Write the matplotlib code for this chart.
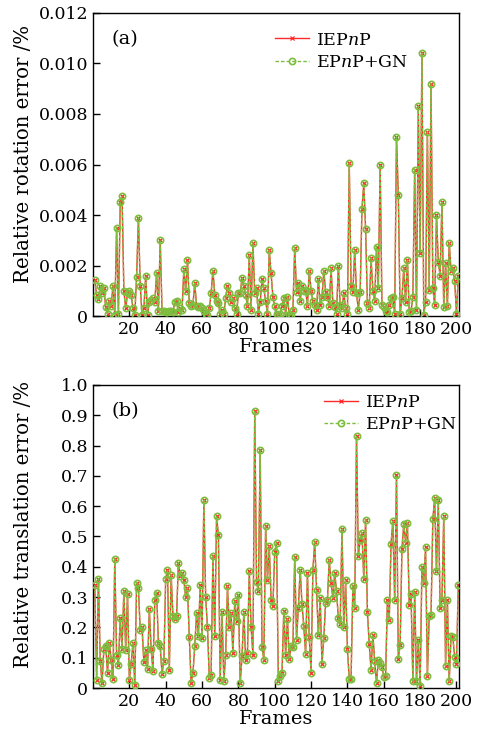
import numpy as np
import matplotlib; matplotlib.use("Agg")
import matplotlib.pyplot as plt

plt.rcParams["font.family"] = ["DejaVu Serif"]
plt.rcParams["mathtext.fontset"] = "dejavuserif"

# relative rotation error, in units of 1e-3 %
rot_err_e3 = [
    1.42, 0.83, 0.66, 1.20, 0.90, 1.12, 0.35, 0.10, 0.60, 0.40,
    1.20, 0.05, 3.50, 0.10, 4.50, 4.75, 1.00, 0.30, 0.90, 1.00,
    0.85, 0.30, 0.05, 1.55, 3.90, 1.20, 0.05, 0.30, 1.60, 0.05,
    0.55, 0.65, 0.70, 0.55, 1.70, 0.20, 3.00, 0.20, 0.20, 0.15,
    0.15, 0.20, 0.20, 0.15, 0.55, 0.60, 0.15, 0.30, 0.25, 1.85,
    1.00, 2.20, 0.50, 0.40, 0.45, 1.30, 0.40, 0.35, 0.40, 0.30,
    0.20, 0.10, 0.05, 0.30, 0.90, 1.80, 0.85, 0.60, 0.50, 0.10,
    0.25, 0.10, 0.70, 1.20, 0.90, 0.55, 0.70, 0.30, 0.10, 0.90,
    0.90, 1.50, 1.20, 0.85, 0.40, 2.40, 0.25, 2.90, 0.90, 1.10,
    0.10, 0.55, 1.45, 1.10, 0.60, 0.10, 2.60, 1.70, 0.75, 0.40,
    0.10, 0.05, 0.10, 0.40, 0.70, 0.05, 0.75, 0.05, 0.05, 0.25,
    2.70, 0.95, 1.30, 0.60, 1.20, 1.00, 1.05, 0.40, 1.80, 1.00,
    0.60, 0.45, 0.25, 1.45, 0.45, 0.75, 1.80, 0.95, 0.75, 0.40,
    1.90, 0.50, 0.35, 0.10, 2.00, 0.45, 0.30, 0.90, 0.30, 0.10,
    6.05, 1.20, 0.95, 2.60, 0.90, 0.25, 0.95, 4.25, 5.25, 3.45,
    0.50, 0.30, 2.30, 1.00, 0.60, 2.75, 1.10, 6.00, 0.45, 0.35,
    0.20, 0.15, 0.45, 0.70, 0.75, 0.10, 7.10, 4.80, 0.10, 0.70,
    1.90, 0.55, 2.20, 0.15, 0.20, 0.75, 5.80, 0.25, 8.30, 2.50,
    10.40, 0.05, 0.55, 7.30, 1.05, 9.20, 1.10, 0.45, 4.00, 2.15,
    1.60, 4.50, 0.35, 2.10, 0.40, 2.90, 1.80, 1.90, 1.40, 0.10,
    1.60,
]

# relative translation error, %
trans_err = [
    0.34, 0.027, 0.36, 0.088, 0.016, 0.13, 0.14, 0.05, 0.148, 0.093,
    0.03, 0.426, 0.11, 0.077, 0.23, 0.13, 0.32, 0.126, 0.31, 0.027,
    0.08, 0.148, 0.01, 0.348, 0.33, 0.19, 0.20, 0.085, 0.124, 0.063,
    0.26, 0.13, 0.055, 0.29, 0.315, 0.15, 0.137, 0.047, 0.09, 0.36,
    0.39, 0.06, 0.374, 0.236, 0.228, 0.238, 0.414, 0.37, 0.38, 0.357,
    0.30, 0.33, 0.167, 0.016, 0.05, 0.137, 0.247, 0.17, 0.34, 0.165,
    0.62, 0.30, 0.20, 0.033, 0.044, 0.436, 0.17, 0.566, 0.505, 0.027,
    0.25, 0.022, 0.11, 0.335, 0.20, 0.247, 0.115, 0.286, 0.22, 0.308,
    0.016, 0.104, 0.25, 0.093, 0.115, 0.385, 0.20, 0.11, 0.915, 0.35,
    0.32, 0.786, 0.135, 0.093, 0.533, 0.357, 0.467, 0.29, 0.27, 0.45,
    0.478, 0.022, 0.04, 0.05, 0.255, 0.11, 0.228, 0.096, 0.14, 0.135,
    0.432, 0.16, 0.264, 0.39, 0.277, 0.203, 0.113, 0.38, 0.167, 0.05,
    0.39, 0.482, 0.324, 0.174, 0.297, 0.08, 0.165, 0.282, 0.29, 0.423,
    0.348, 0.297, 0.38, 0.32, 0.23, 0.21, 0.524, 0.20, 0.355, 0.128,
    0.03, 0.03, 0.337, 0.264, 0.83, 0.434, 0.49, 0.513, 0.36, 0.555,
    0.25, 0.146, 0.06, 0.176, 0.088, 0.016, 0.093, 0.082, 0.07, 0.038,
    0.04, 0.29, 0.225, 0.476, 0.55, 0.29, 0.703, 0.096, 0.143, 0.46,
    0.54, 0.48, 0.546, 0.275, 0.31, 0.024, 0.316, 0.022, 0.16, 0.008,
    0.4, 0.348, 0.465, 0.04, 0.238, 0.24, 0.558, 0.626, 0.385, 0.62,
    0.264, 0.29, 0.566, 0.074, 0.29, 0.022, 0.17, 0.168, 0.102, 0.08,
    0.34,
]

x_ticks = [20, 40, 60, 80, 100, 120, 140, 160, 180, 200]
rot_ticks = [0, 0.002, 0.004, 0.006, 0.008, 0.010, 0.012]
rot_labels = ["0", "0.002", "0.004", "0.006", "0.008", "0.010", "0.012"]
trans_ticks = [0, 0.1, 0.2, 0.3, 0.4, 0.5, 0.6, 0.7, 0.8, 0.9, 1.0]
trans_labels = ["0", "0.1", "0.2", "0.3", "0.4", "0.5", "0.6", "0.7", "0.8", "0.9", "1.0"]

RED = "#FF2A2A"
GREEN = "#7CBF3E"

rot = np.array(rot_err_e3) * 1e-3
trans = np.array(trans_err)
frames = np.arange(1, len(rot) + 1)

fig = plt.figure(figsize=(4.81, 7.41), dpi=100)
ax1 = fig.add_axes([0.1933, 0.5735, 0.761, 0.409])
ax2 = fig.add_axes([0.1933, 0.0715, 0.761, 0.409])

panels = [
    (ax1, rot, rot_ticks, rot_labels, (0, 0.012), "Relative rotation error /%", "(a)", (0.468, 0.973), 0.535),
    (ax2, trans, trans_ticks, trans_labels, (0, 1.0), "Relative translation error /%", "(b)", (0.602, 1.005), 0.541),
]
for ax, y, yt, yl, ylim, ylab, tag, leg_pos, lab_y in panels:
    ax.plot(frames, y, "-", color=RED, lw=1.0, marker="x", ms=2.5, mew=0.9, label=r"IEP$n$P", zorder=2)
    ax.plot(frames, y, "--", color=GREEN, lw=1.0, dashes=(2.5, 1.5), marker="o", ms=4.5,
            mfc="none", mec=GREEN, mew=1.2, label=r"EP$n$P+GN", zorder=3)
    ax.set_xlim(0, 201.4)
    ax.set_ylim(*ylim)
    ax.set_xticks(x_ticks)
    ax.set_yticks(yt)
    ax.set_yticklabels(yl)
    ax.tick_params(direction="in", length=5, width=1, labelsize=12.5, top=False, right=False)
    ax.set_xlabel("Frames", fontsize=14, labelpad=0)
    ax.set_ylabel(ylab, fontsize=14.2)
    ax.yaxis.set_label_coords(-0.164, lab_y)
    ax.text(0.05, 0.945, tag, transform=ax.transAxes, fontsize=14, va="top")
    ax.legend(loc="upper left", bbox_to_anchor=leg_pos, frameon=False, fontsize=12.5,
              handlelength=2.0, handletextpad=0.4, labelspacing=0.3, borderaxespad=0.2)
    for s in ax.spines.values():
        s.set_linewidth(1.0)

plt.savefig("out.png", dpi=100)
plt.close()
